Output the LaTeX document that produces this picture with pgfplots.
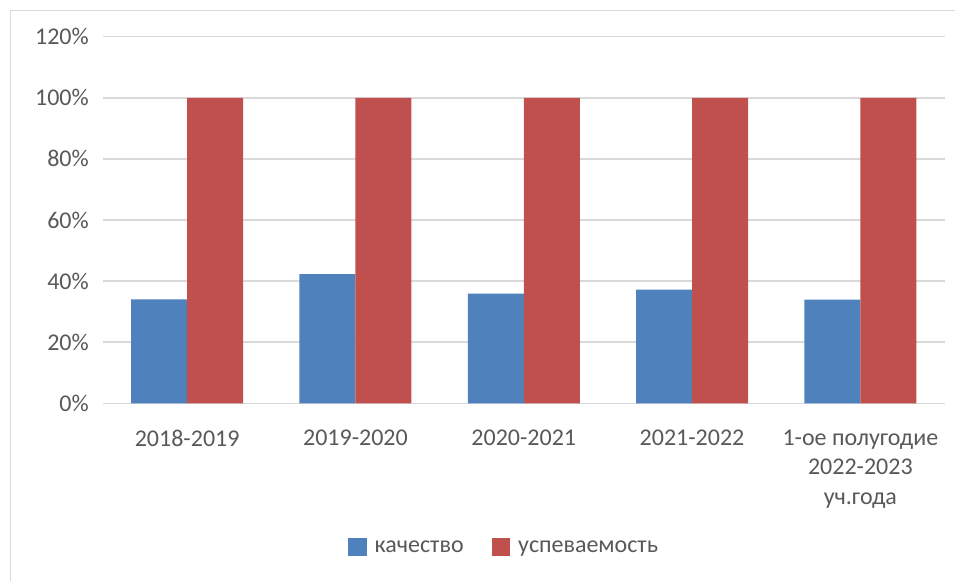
\documentclass[border=0pt]{standalone}
\usepackage{pgfplots}
\pgfplotsset{compat=1.18}
\usepackage{fontspec}
\setmainfont{Carlito}
\definecolor{qblue}{HTML}{4F81BD}
\definecolor{qred}{HTML}{C0504D}
\definecolor{txtgray}{HTML}{595959}
\definecolor{gridgray}{HTML}{D9D9D9}
\pgfplotsset{sq legend/.style={legend image code/.code={\fill[##1] (0pt,-9.3pt) rectangle (18.6pt,9.3pt);}}}

\begin{document}
\begin{tikzpicture}
\path[use as bounding box, fill=white] (0,0) rectangle (955pt,581pt);
\draw[gridgray, line width=1pt] (10pt,0) -- (10pt,570pt) -- (955pt,570pt);
\begin{axis}[
  at={(103pt,177.7pt)}, anchor=south west,
  scale only axis, width=841.5pt, height=366.6pt,
  ybar=0pt, bar width=56pt,
  xmin=-0.5, xmax=4.5, ymin=0, ymax=120,
  xtick={0,1,2,3,4},
  xticklabels={2018-2019,2019-2020,2020-2021,2021-2022,{1-ое полугодие\\2022-2023\\уч.года}},
  ytick={0,20,40,60,80,100,120},
  yticklabels={0\%,20\%,40\%,60\%,80\%,100\%,120\%},
  axis line style={draw=none},
  major tick style={draw=none},
  ymajorgrids, grid style={gridgray, line width=1.5pt},
  tick label style={font=\fontsize{24}{29.5}\selectfont, text=txtgray},
  xticklabel style={align=center, inner sep=0pt, yshift=-22pt},
  yticklabel style={inner sep=0pt, xshift=-14pt},
  legend style={at={(0.4765,-0.392)}, anchor=center, draw=none, fill=none,
    legend columns=2, font=\fontsize{24}{29}\selectfont, text=txtgray,
    /tikz/every odd column/.append style={column sep=6pt},
    /tikz/every even column/.append style={column sep=26pt}},
]
\addplot[fill=qblue, draw=none, sq legend] coordinates {(0,34) (1,42.3) (2,35.9) (3,37.2) (4,33.9)};
\addplot[fill=qred, draw=none, sq legend] coordinates {(0,100) (1,100) (2,100) (3,100) (4,100)};
\legend{качество, успеваемость}
\end{axis}
\end{tikzpicture}
\end{document}
